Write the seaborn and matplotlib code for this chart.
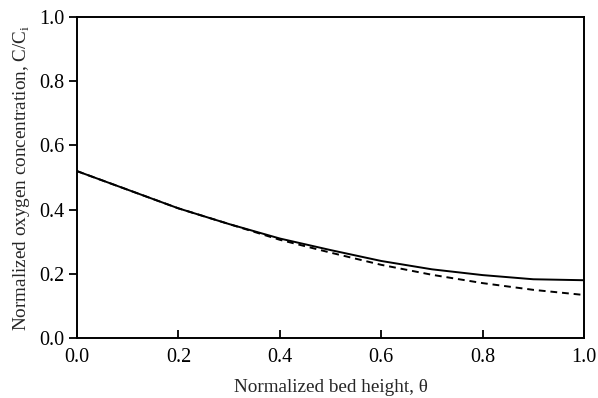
import matplotlib
matplotlib.use('Agg')
import matplotlib.pyplot as plt
import seaborn as sns
import pandas as pd

# valores
theta = [0.0, 0.1, 0.2, 0.3, 0.4, 0.5, 0.6, 0.7, 0.8, 0.9, 1.0]
c_solida = [0.52, 0.462, 0.404, 0.355, 0.31, 0.274, 0.24, 0.214, 0.196, 0.183, 0.18]
c_tracejada = [0.52, 0.462, 0.404, 0.355, 0.306, 0.266, 0.228, 0.197, 0.171, 0.15, 0.134]

df = pd.concat([
    pd.DataFrame({'theta': theta, 'c': c_solida, 'serie': 'a'}),
    pd.DataFrame({'theta': theta, 'c': c_tracejada, 'serie': 'b'}),
])

sns.set_theme(style='ticks')
plt.rcParams['font.family'] = ['Liberation Serif', 'DejaVu Serif']
plt.rcParams['mathtext.fontset'] = 'custom'
plt.rcParams['mathtext.rm'] = 'Liberation Serif'

fig = plt.figure(figsize=(5.98, 3.98), dpi=100)
ax = fig.add_axes([0.1288, 0.1508, 0.8478, 0.8062])

sns.lineplot(data=df, x='theta', y='c', style='serie', dashes=[(None, None), (3.5, 2.5)],
             color='black', linewidth=1.4, legend=False, ax=ax)

ax.set_xlim(0, 1)
ax.set_ylim(0, 1)
ax.set_xticks([0.0, 0.2, 0.4, 0.6, 0.8, 1.0])
ax.set_yticks([0.0, 0.2, 0.4, 0.6, 0.8, 1.0])
ax.xaxis.set_major_formatter(matplotlib.ticker.FormatStrFormatter('%.1f'))
ax.yaxis.set_major_formatter(matplotlib.ticker.FormatStrFormatter('%.1f'))
ax.tick_params(axis='x', direction='in', length=6, width=1.3, labelsize=14.5, pad=7, colors='black')
ax.tick_params(axis='y', direction='out', length=6, width=1.3, labelsize=14.5, pad=3, colors='black')
for s in ax.spines.values():
    s.set_linewidth(1.4)
    s.set_color('black')

ax.set_xlabel('Normalized bed height, θ', fontsize=13.8, labelpad=9)
ax.set_ylabel(r'Normalized oxygen concentration, C/C$_\mathrm{i}$', fontsize=13.8, labelpad=5)

fig.savefig('out.png', dpi=100)
plt.close('all')
